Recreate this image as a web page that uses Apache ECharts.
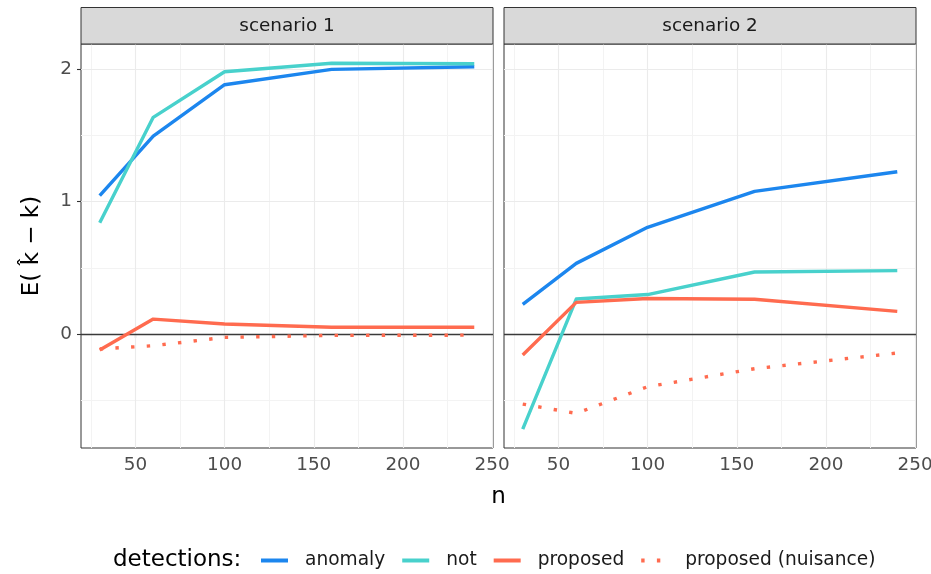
<!DOCTYPE html>
<html><head><meta charset="utf-8">
<script src="https://cdn.jsdelivr.net/npm/echarts@6/dist/echarts.min.js"></script>
<style>html,body{margin:0;padding:0;background:#fff}#c{width:931px;height:574px}</style>
</head><body><div id="c"></div>
<script>
// ---- data ----
const nValues = [30, 60, 100, 160, 240];
const s1Anomaly  = [1.045, 1.495, 1.882, 1.998, 2.018];
const s1Not      = [0.842, 1.636, 1.980, 2.044, 2.040];
const s1Proposed = [-0.118, 0.115, 0.078, 0.053, 0.053];
const s1Nuisance = [-0.110, -0.086, -0.023, -0.008, -0.006];
const s2Anomaly  = [0.226, 0.535, 0.807, 1.078, 1.226];
const s2Not      = [-0.714, 0.266, 0.300, 0.470, 0.480];
const s2Proposed = [-0.156, 0.241, 0.270, 0.264, 0.173];
const s2Nuisance = [-0.526, -0.596, -0.395, -0.259, -0.141];
const panelTitles = ['scenario 1', 'scenario 2'];
const seriesNames = ['anomaly', 'not', 'proposed', 'proposed (nuisance)'];
const xTicks = [50, 100, 150, 200, 250];
const xMinor = [25, 75, 125, 175, 225];
const yTicks = [0, 1, 2];
const yMinor = [-0.5, 0.5, 1.5];
const hlineY = [0];

// ---- style ----
const FONT = 'DejaVu Sans';
const colors = ['#1C86EE', '#48D1CC', '#FF6B4F', '#FF6B4F'];
const LW = 3.4;
const grids = [{left: 81, top: 44, width: 412, height: 404}, {left: 504, top: 44, width: 412, height: 404}];
const xRange = [19.5, 250.5];
const yRange = [-0.857, 2.189];

const panels = [[s1Anomaly, s1Not, s1Proposed, s1Nuisance], [s2Anomaly, s2Not, s2Proposed, s2Nuisance]];

const series = [];
panels.forEach((vals, gi) => {
  const ml = [];
  xMinor.forEach(v => ml.push({xAxis: v, lineStyle: {color: '#F3F3F3', width: 1, type: 'solid'}}));
  yMinor.forEach(v => ml.push({yAxis: v, lineStyle: {color: '#F3F3F3', width: 1, type: 'solid'}}));
  xTicks.forEach(v => ml.push({xAxis: v, lineStyle: {color: '#EBEBEB', width: 1.1, type: 'solid'}}));
  yTicks.forEach(v => ml.push({yAxis: v, lineStyle: {color: '#EBEBEB', width: 1.1, type: 'solid'}}));
  hlineY.forEach(v => ml.push({yAxis: v, lineStyle: {color: '#3A3A3A', width: 1.3, type: 'solid'}}));
  series.push({
    type: 'line', name: 'grid' + gi, xAxisIndex: gi, yAxisIndex: gi, data: [], z: 1, silent: true,
    markLine: {silent: true, symbol: 'none', animation: false, label: {show: false}, emphasis: {disabled: true}, data: ml}
  });
  vals.forEach((ys, si) => {
    series.push({
      type: 'line', name: seriesNames[si], xAxisIndex: gi, yAxisIndex: gi,
      data: nValues.map((n, i) => [n, ys[i]]),
      symbol: 'none', showSymbol: false, z: 10, silent: true, animation: false,
      lineStyle: {color: colors[si], width: LW, type: si === 3 ? [LW, 12.3] : 'solid', cap: 'butt', join: 'round'},
      itemStyle: {color: colors[si]},
      emphasis: {disabled: true}
    });
  });
});

const xAxes = grids.map((g, gi) => ({
  type: 'value', gridIndex: gi, min: xRange[0], max: xRange[1],
  axisLine: {show: false},
  axisTick: {show: true, customValues: xTicks, length: 4, lineStyle: {color: '#333333', width: 1.1}},
  axisLabel: {show: true, customValues: xTicks, margin: 8, fontFamily: FONT, fontSize: 18.4, color: '#4D4D4D'},
  splitLine: {show: false}
}));
const yAxes = grids.map((g, gi) => ({
  type: 'value', gridIndex: gi, min: yRange[0], max: yRange[1],
  axisLine: {show: false},
  axisTick: {show: gi === 0, customValues: yTicks, length: 4, lineStyle: {color: '#333333', width: 1.1}},
  axisLabel: {show: gi === 0, customValues: yTicks, margin: 9, fontFamily: FONT, fontSize: 18.4, color: '#4D4D4D'},
  splitLine: {show: false}
}));

const graphic = [];
grids.forEach((g, gi) => {
  graphic.push({type: 'rect', shape: {x: g.left, y: 7.5, width: g.width, height: 36.5},
    style: {fill: '#D9D9D9', stroke: '#333333', lineWidth: 1}, z: 100, silent: true});
  graphic.push({type: 'text', x: g.left + g.width / 2, y: 26, z: 101, silent: true,
    style: {text: panelTitles[gi], fontFamily: FONT, fontSize: 18.4, fill: '#1A1A1A', textAlign: 'center', textVerticalAlign: 'middle'}});
});
graphic.push({type: 'text', x: 32, y: 246, rotation: Math.PI / 2, silent: true,
  style: {text: 'E( k\u0302 \u2212 k)', fontFamily: FONT, fontSize: 23, fill: '#000', textAlign: 'center', textVerticalAlign: 'middle'}});
graphic.push({type: 'text', x: 498.5, y: 497, silent: true,
  style: {text: 'n', fontFamily: FONT, fontSize: 23, fill: '#000', textAlign: 'center', textVerticalAlign: 'middle'}});
graphic.push({type: 'text', x: 113, y: 560, silent: true,
  style: {text: 'detections:', fontFamily: FONT, fontSize: 23, fill: '#000', textAlign: 'left', textVerticalAlign: 'middle'}});

const option = {
  animation: false,
  backgroundColor: '#ffffff',
  grid: grids.map(g => Object.assign({show: true, borderColor: '#333333', borderWidth: 1, backgroundColor: '#ffffff', containLabel: false, outerBoundsMode: 'none'}, g)),
  xAxis: xAxes,
  yAxis: yAxes,
  legend: {
    data: seriesNames, left: 259, top: 551, padding: 0, itemGap: 15, itemWidth: 27, itemHeight: 14,
    selectedMode: false,
    itemStyle: {opacity: 0},
    lineStyle: {width: 4},
    textStyle: {fontFamily: FONT, fontSize: 18.6, color: '#1A1A1A', padding: [0, 0, 0, 12]}
  },
  series: series,
  graphic: graphic
};
const chart = echarts.init(document.getElementById('c'), null, {renderer: 'canvas'});
chart.setOption(option);
</script>
</body></html>
